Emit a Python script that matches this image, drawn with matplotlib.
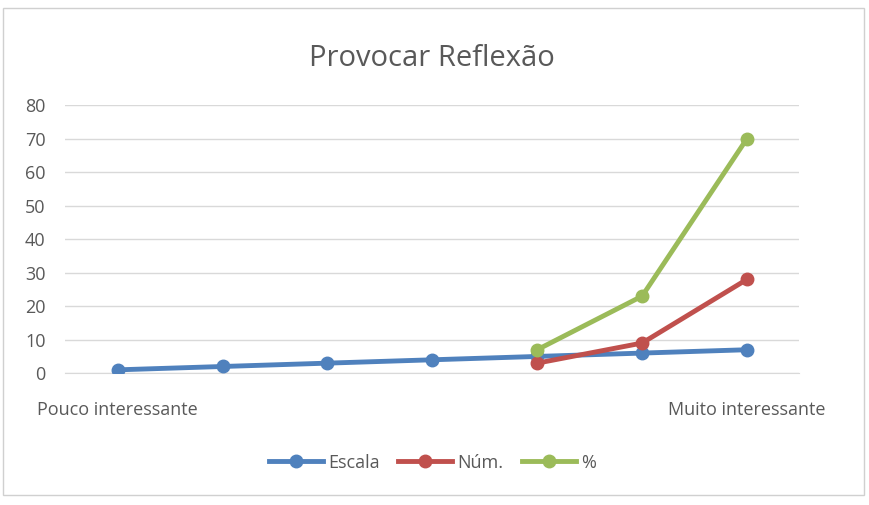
import matplotlib.pyplot as plt
from matplotlib.patches import Rectangle

plt.rcParams["font.family"] = ["Open Sans", "DejaVu Sans"]

positions = [1, 2, 3, 4, 5, 6, 7]
escala = [1, 2, 3, 4, 5, 6, 7]
num_pos = [5, 6, 7]
num = [3, 9, 28]
pct = [7, 23, 70]
tick_labels = ["Pouco interessante", "", "", "", "", "", "Muito interessante"]

fig = plt.figure(figsize=(8.69, 5.05), dpi=100)
fig.patches.append(Rectangle((0.004, 0.02), 0.99, 0.965, transform=fig.transFigure,
                             fill=False, edgecolor="#d0d0d0", linewidth=1))
ax = fig.add_axes([0.075, 0.261, 0.845, 0.531])

ax.plot(positions, escala, color="#4F81BD", linewidth=3.5, marker="o", markersize=9, label="Escala", zorder=3)
ax.plot(num_pos, num, color="#C0504D", linewidth=3.5, marker="o", markersize=9, label="Núm.", zorder=4)
ax.plot(num_pos, pct, color="#9BBB59", linewidth=3.5, marker="o", markersize=9, label="%", zorder=5)

ax.set_xlim(0.5, 7.5)
ax.set_ylim(0, 80)
ax.set_yticks(range(0, 81, 10))
ax.set_xticks(positions)
ax.set_xticklabels(tick_labels)
ax.tick_params(axis="both", length=0, labelsize=13, colors="#595959")
ax.tick_params(axis="x", pad=20)
ax.tick_params(axis="y", pad=14)
ax.grid(axis="y", color="#d9d9d9", linewidth=1)
for side in ["top", "right", "left"]:
    ax.spines[side].set_visible(False)
ax.spines["bottom"].set_color("#d9d9d9")

ax.set_title("Provocar Reflexão", fontsize=21, color="#595959", pad=28)
ax.legend(loc="upper center", bbox_to_anchor=(0.5, -0.24), ncol=3, frameon=False,
          fontsize=13, labelcolor="#595959", handlelength=3, columnspacing=1.0, handletextpad=0.3)

fig.savefig("out.png")
